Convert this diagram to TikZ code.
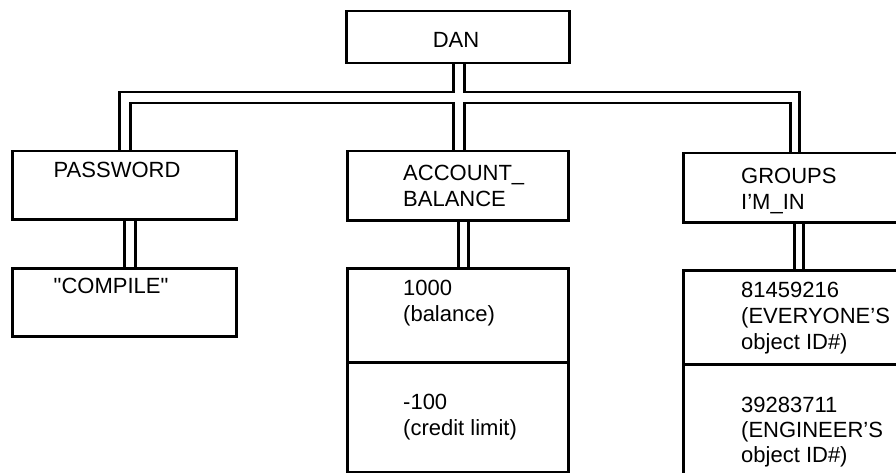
\documentclass[tikz,border=0pt]{standalone}
\usepackage{fontspec}
\setmainfont{Liberation Sans}
\newfontfamily\qfont{Liberation Sans}[Ligatures=ResetAll]
\usetikzlibrary{calc}
\tikzset{
  box/.style={draw, line width=2.5pt, rectangle, inner sep=0pt, anchor=north west, line join=miter},
  lbl/.style={anchor=base west, inner sep=0pt, font=\fontsize{22}{26}\selectfont},
  wire/.style={draw, line width=2.5pt, line join=miter, line cap=rect}
}
\begin{document}
\begin{tikzpicture}[x=1pt,y=-1pt]
\clip (0,0) rectangle (896,473);
\useasboundingbox (0,0) rectangle (896,473);
% boxes
\node[box, minimum width=223pt, minimum height=52pt] (dan) at (345,10) {};
\node[box, minimum width=224pt, minimum height=68pt] (pw) at (11,150) {};
\node[box, minimum width=221pt, minimum height=69pt] (acct) at (346,150) {};
\node[box, minimum width=240pt, minimum height=69pt] (grp) at (682,152) {};
\node[box, minimum width=224pt, minimum height=68pt] (pwv) at (11,267) {};
\node[box, minimum width=221pt, minimum height=94pt] (bal) at (346,267) {};
\node[box, minimum width=221pt, minimum height=110pt] (lim) at (346,361) {};
\node[box, minimum width=240pt, minimum height=94pt] (ev) at (682,269) {};
\node[box, minimum width=240pt, minimum height=130pt] (eng) at (682,363) {};
% texts
\node[lbl, anchor=base] (tdan) at (456,48) {DAN};
\node[lbl] (tpw) at (53.5,178) {PASSWORD};
\node[lbl] (tacc1) at (403,181) {ACCOUNT\_};
\node[lbl] (tacc2) at (403,206) {BALANCE};
\node[lbl] (tgrp1) at (741,183) {GROUPS};
\node[lbl] (tgrp2) at (741,209) {I'M\_IN};
\node[lbl] (tpwv) at (53.5,293) {\qfont "COMPILE"};
\node[lbl] (tbal1) at (403,295) {1000};
\node[lbl] (tbal2) at (403,321) {(balance)};
\node[lbl] (tlim1) at (403,409) {-100};
\node[lbl] (tlim2) at (403,435) {(credit limit)};
\node[lbl] (tev1) at (741,297) {81459216};
\node[lbl] (tev2) at (741,323) {(EVERYONE'S};
\node[lbl] (tev3) at (741,349) {object ID\#)};
\node[lbl] (teng1) at (741,412) {39283711};
\node[lbl] (teng2) at (741,437) {(ENGINEER'S};
\node[lbl] (teng3) at (741,462) {object ID\#)};
% double connectors from DAN
\draw[wire] ($(dan.south)+(-4.5,0)$) |- ($(pw.north)+(-5,-58)$) -- ($(pw.north)+(-5,0)$);
\draw[wire] ($(dan.south)+(6.5,0)$) |- ($(grp.north)+(-4,-60)$) -- ($(grp.north)+(-4,0)$);
\draw[wire] ($(pw.north)+(6,0)$) |- ($(acct.north)+(-4.5,-47)$) -- ($(acct.north)+(-4.5,0)$);
\draw[wire] ($(grp.north)+(-13,0)$) |- ($(acct.north)+(6.5,-47)$) -- ($(acct.north)+(6.5,0)$);
% double connectors to values
\draw[wire] ($(pw.south)+(0,0)$) -- ($(pwv.north)+(0,0)$);
\draw[wire] ($(pw.south)+(11,0)$) -- ($(pwv.north)+(11,0)$);
\draw[wire] ($(acct.south)+(0.5,0)$) -- ($(bal.north)+(0.5,0)$);
\draw[wire] ($(acct.south)+(10.5,0)$) -- ($(bal.north)+(10.5,0)$);
\draw[wire] ($(grp.south)+(-9,0)$) -- ($(ev.north)+(-9,0)$);
\draw[wire] ($(grp.south)+(0,0)$) -- ($(ev.north)+(0,0)$);
\end{tikzpicture}
\end{document}
